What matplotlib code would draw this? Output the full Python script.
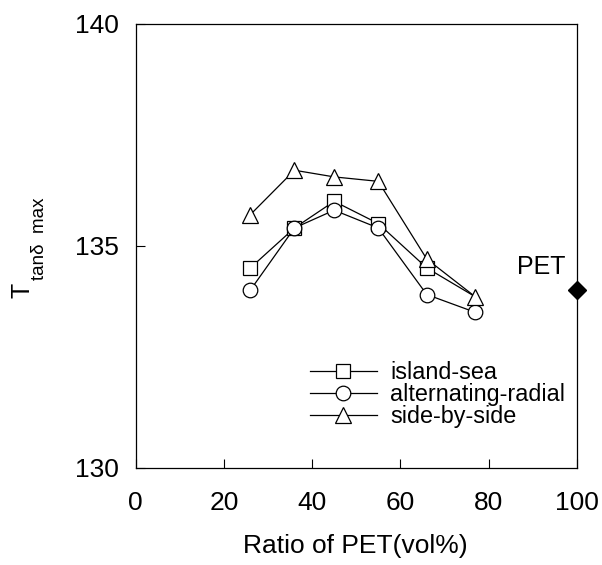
import matplotlib
matplotlib.use("Agg")
import matplotlib.pyplot as plt

plt.rcParams['font.family'] = ['Liberation Sans', 'DejaVu Sans']

# data
x_ratio = [26, 36, 45, 55, 66, 77]
island_sea = [134.5, 135.4, 136.0, 135.5, 134.5, 133.85]
alternating_radial = [134.0, 135.4, 135.8, 135.4, 133.9, 133.5]
side_by_side = [135.7, 136.7, 136.55, 136.45, 134.7, 133.85]
pet_x = [100]
pet_y = [134.0]

fig = plt.figure(figsize=(6.02, 5.65), dpi=100)
ax = fig.add_axes([0.2254, 0.1722, 0.7326, 0.7858])

style = dict(color='black', linewidth=0.9, markerfacecolor='white',
             markeredgecolor='black', markeredgewidth=0.9)
# last island-sea marker sits hidden under the side-by-side triangle
ax.plot(x_ratio, island_sea, marker='s', markersize=9.5,
        markevery=slice(0, 5), label='island-sea', **style)
ax.plot(x_ratio, alternating_radial, marker='o', markersize=10.5,
        label='alternating-radial', **style)
ax.plot(x_ratio, side_by_side, marker='^', markersize=11,
        label='side-by-side', **style)

ax.plot(pet_x, pet_y, marker='D', markersize=9, color='black',
        linestyle='none', clip_on=False, zorder=5)
ax.text(97.5, 134.52, 'PET', fontsize=18, ha='right', va='center')

ax.set_xlim(0, 100)
ax.set_ylim(130, 140)
ax.set_xticks([0, 20, 40, 60, 80, 100])
ax.set_yticks([130, 135, 140])
ax.tick_params(axis='both', direction='in', length=6.5, width=0.8,
               labelsize=19)
ax.tick_params(axis='x', pad=17)
ax.tick_params(axis='y', pad=12)
for sp in ax.spines.values():
    sp.set_linewidth(0.9)

# axis titles
fig.text(355 / 602, 1 - 546 / 565, 'Ratio of PET(vol%)', fontsize=19,
         ha='center', va='center')
fig.text(22 / 602, 1 - 298 / 565, 'T', fontsize=18, rotation=90,
         ha='center', va='bottom')
fig.text(40 / 602, 1 - 280 / 565, 'tanδ  max', fontsize=13.5, rotation=90,
         ha='center', va='bottom')

leg = ax.legend(loc='lower right', bbox_to_anchor=(1.0, 0.063), frameon=False,
                fontsize=16.8, handlelength=2.9, handletextpad=0.55,
                labelspacing=-0.04, borderaxespad=0.1)

fig.savefig('out.png', dpi=100)
